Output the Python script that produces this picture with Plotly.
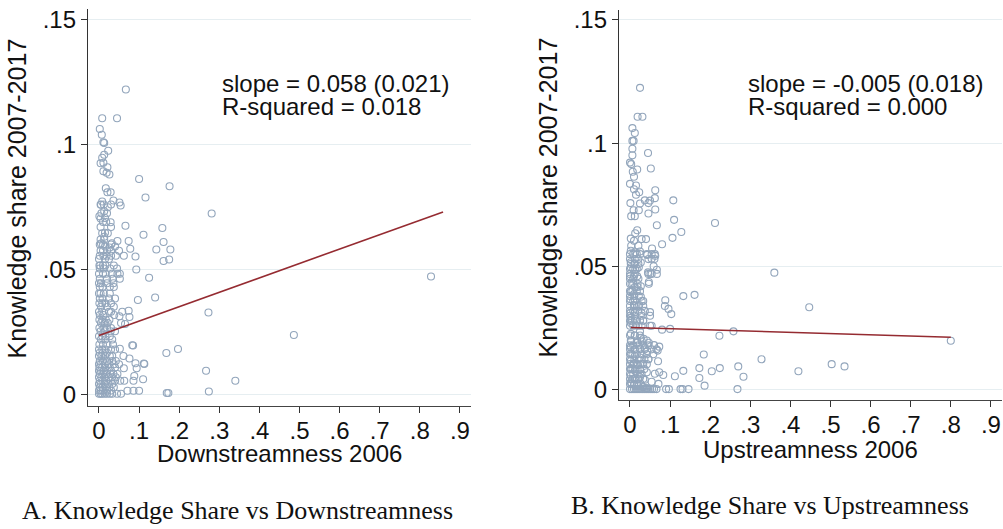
import plotly.graph_objects as go

# ---------------- Panel A: Knowledge share vs Downstreamness ----------------
a_upper = [
    (0.067, 0.1220), (0.008, 0.1105), (0.045, 0.1105), (0.002, 0.1062), (0.007, 0.1039),
    (0.011, 0.1009), (0.013, 0.1006), (0.023, 0.0975), (0.013, 0.0959), (0.008, 0.0947),
    (0.004, 0.0925), (0.011, 0.0927), (0.021, 0.0909), (0.011, 0.0893), (0.019, 0.0887),
    (0.026, 0.0880), (0.100, 0.0862), (0.176, 0.0833), (0.017, 0.0825), (0.021, 0.0809),
    (0.029, 0.0809), (0.116, 0.0788), (0.036, 0.0776), (0.008, 0.0772), (0.051, 0.0768),
    (0.054, 0.0756), (0.005, 0.0759), (0.022, 0.0749), (0.013, 0.0733), (0.001, 0.0713),
    (0.004, 0.0704), (0.015, 0.0706), (0.029, 0.0689), (0.066, 0.0675), (0.158, 0.0666),
    (0.015, 0.0647), (0.013, 0.0631), (0.111, 0.0639), (0.005, 0.0604), (0.032, 0.0605),
    (0.046, 0.0614), (0.074, 0.0614), (0.161, 0.0610), (0.015, 0.0592), (0.027, 0.0588),
    (0.040, 0.0592), (0.078, 0.0583), (0.143, 0.0580), (0.178, 0.0580), (0.281, 0.0724),
]
a_sparse = [
    (0.091, 0.0552), (0.175, 0.0540), (0.161, 0.0534), (0.093, 0.0500), (0.125, 0.0467),
    (0.097, 0.0378), (0.140, 0.0388), (0.273, 0.0328), (0.074, 0.0335), (0.076, 0.0310),
    (0.051, 0.0313), (0.065, 0.0282), (0.083, 0.0197), (0.052, 0.0183), (0.168, 0.0166),
    (0.197, 0.0182), (0.076, 0.0144), (0.091, 0.0125), (0.112, 0.0124), (0.094, 0.0105),
    (0.062, 0.0105), (0.267, 0.0095), (0.340, 0.0055), (0.110, 0.0061), (0.088, 0.0074),
    (0.086, 0.0055), (0.071, 0.0015), (0.086, 0.0015), (0.100, 0.0015), (0.169, 0.0006),
    (0.173, 0.0006), (0.274, 0.0012), (0.486, 0.0238), (0.828, 0.0472), (0.085, 0.0196),
    (0.113, 0.0122),
]
# rows of the dense cluster near zero: (y level, x values)
a_rows = [
    (0.0760, [0.004, 0.012, 0.030]), (0.0725, [0.006, 0.020]), (0.0690, [0.010, 0.018]),
    (0.0670, [0.004, 0.030]), (0.0645, [0.008, 0.022]), (0.0620, [0.004, 0.013]),
    (0.0600, [0.002, 0.010, 0.030]), (0.0575, [0.004, 0.010, 0.020, 0.030, 0.050]),
    (0.0555, [0.002, 0.011, 0.019, 0.030, 0.042, 0.062]), (0.0542, [0.000, 0.015, 0.025]),
    (0.0516, [0.001, 0.003, 0.010, 0.016, 0.037]), (0.0504, [0.002, 0.012, 0.028, 0.045]),
    (0.0483, [0.000, 0.010, 0.017, 0.032, 0.046, 0.052]), (0.0463, [0.002, 0.020, 0.034, 0.052]),
    (0.0445, [0.000, 0.005, 0.020, 0.036]), (0.0430, [0.002, 0.009, 0.027, 0.037]),
    (0.0404, [0.000, 0.004, 0.012, 0.027]), (0.0384, [0.002, 0.009, 0.025, 0.040]),
    (0.0365, [0.001, 0.008, 0.016, 0.030]), (0.0351, [0.005, 0.020, 0.037]),
    (0.0331, [0.000, 0.008, 0.025, 0.030, 0.058]), (0.0318, [0.002, 0.011, 0.038]),
    (0.0299, [0.001, 0.008, 0.017, 0.026]), (0.0286, [0.005, 0.014, 0.022, 0.055]),
    (0.0266, [0.001, 0.011, 0.020, 0.030]), (0.0253, [0.004, 0.014, 0.029, 0.040]),
    (0.0233, [0.000, 0.008, 0.016, 0.027]), (0.0220, [0.005, 0.016, 0.033]),
    (0.0200, [0.001, 0.010, 0.021, 0.035]), (0.0180, [0.000, 0.008, 0.016, 0.030, 0.040]),
    (0.0167, [0.002, 0.010, 0.020]), (0.0154, [0.000, 0.006, 0.015, 0.027, 0.033, 0.061]),
    (0.0134, [0.002, 0.010, 0.020, 0.033, 0.042]), (0.0121, [0.000, 0.005, 0.014, 0.024, 0.037, 0.050]),
    (0.0108, [0.001, 0.008, 0.016, 0.027, 0.040]), (0.0095, [0.000, 0.005, 0.012, 0.020, 0.030]),
    (0.0082, [0.002, 0.010, 0.018, 0.028, 0.036, 0.046]), (0.0069, [0.000, 0.006, 0.014, 0.024, 0.033, 0.042]),
    (0.0055, [0.002, 0.010, 0.018, 0.030, 0.040, 0.053, 0.063]), (0.0042, [0.000, 0.005, 0.014, 0.022, 0.033]),
    (0.0029, [0.002, 0.009, 0.017, 0.026, 0.037]), (0.0016, [0.000, 0.005, 0.010, 0.020, 0.030]),
    (0.0003, [0.000, 0.004, 0.008, 0.014, 0.020, 0.027, 0.033, 0.045, 0.055]),
]
a_fit_x = [0.0, 0.858]
a_slope, a_intercept = 0.0576, 0.0236

# ---------------- Panel B: Knowledge share vs Upstreamness ----------------
b_points = [
    (0.025, 0.1224), (0.019, 0.1107), (0.031, 0.1107), (0.006, 0.1061), (0.012, 0.1041),
    (0.006, 0.1009), (0.009, 0.1009), (0.006, 0.0977), (0.045, 0.0960), (0.006, 0.0951),
    (0.000, 0.0921), (0.003, 0.0915), (0.018, 0.0893), (0.052, 0.0897), (0.007, 0.0884),
    (0.010, 0.0864), (0.000, 0.0835), (0.015, 0.0828), (0.010, 0.0813), (0.023, 0.0801),
    (0.063, 0.0809), (0.015, 0.0791), (0.062, 0.0777), (0.108, 0.0768), (0.001, 0.0757),
    (0.025, 0.0755), (0.037, 0.0768), (0.046, 0.0757), (0.050, 0.0767), (0.063, 0.0731),
    (0.009, 0.0728), (0.022, 0.0728), (0.046, 0.0715), (0.003, 0.0704), (0.012, 0.0704),
    (0.067, 0.0667), (0.110, 0.0689), (0.212, 0.0676), (0.128, 0.0640), (0.018, 0.0647),
    (0.013, 0.0635), (0.106, 0.0616), (0.002, 0.0613), (0.010, 0.0604), (0.029, 0.0611),
    (0.040, 0.0611), (0.003, 0.0584), (0.021, 0.0584), (0.080, 0.0590), (0.055, 0.0573),
    (0.002, 0.0564), (0.013, 0.0557), (0.025, 0.0561), (0.043, 0.0547), (0.063, 0.0543),
    (0.054, 0.0531), (0.002, 0.0517), (0.012, 0.0513), (0.027, 0.0516), (0.059, 0.0501),
    (0.002, 0.0497), (0.013, 0.0487), (0.022, 0.0497), (0.067, 0.0487), (0.045, 0.0476),
    (0.051, 0.0471), (0.360, 0.0475), (0.000, 0.0460), (0.010, 0.0460), (0.018, 0.0460),
    (0.047, 0.0437), (0.004, 0.0430), (0.012, 0.0417), (0.019, 0.0417), (0.027, 0.0420),
    (0.002, 0.0397), (0.010, 0.0388), (0.027, 0.0377), (0.133, 0.0380), (0.161, 0.0385),
    (0.001, 0.0368), (0.012, 0.0361), (0.033, 0.0360), (0.088, 0.0363), (0.010, 0.0344),
    (0.023, 0.0344), (0.096, 0.0328), (0.447, 0.0335), (0.001, 0.0311), (0.012, 0.0313),
    (0.029, 0.0311), (0.050, 0.0315), (0.103, 0.0307), (0.002, 0.0291), (0.012, 0.0287),
    (0.025, 0.0281), (0.033, 0.0281), (0.002, 0.0271), (0.015, 0.0261), (0.050, 0.0260),
    (0.080, 0.0244), (0.100, 0.0247), (0.258, 0.0237), (0.223, 0.0219), (0.025, 0.0237),
    (0.002, 0.0227), (0.012, 0.0220), (0.027, 0.0211), (0.034, 0.0207), (0.003, 0.0197),
    (0.018, 0.0191), (0.047, 0.0191), (0.060, 0.0181), (0.073, 0.0175), (0.069, 0.0159),
    (0.800, 0.0199), (0.002, 0.0173), (0.012, 0.0164), (0.025, 0.0167), (0.037, 0.0171),
    (0.043, 0.0157), (0.184, 0.0143), (0.328, 0.0124), (0.002, 0.0148), (0.012, 0.0137),
    (0.025, 0.0131), (0.046, 0.0124), (0.070, 0.0116), (0.002, 0.0117), (0.010, 0.0108),
    (0.020, 0.0100), (0.033, 0.0104), (0.503, 0.0104), (0.535, 0.0095), (0.270, 0.0095),
    (0.224, 0.0088), (0.173, 0.0088), (0.204, 0.0075), (0.420, 0.0075), (0.133, 0.0077),
    (0.002, 0.0084), (0.012, 0.0077), (0.025, 0.0081), (0.042, 0.0071), (0.062, 0.0065),
    (0.073, 0.0071), (0.083, 0.0060), (0.112, 0.0055), (0.283, 0.0053), (0.173, 0.0048),
    (0.002, 0.0057), (0.012, 0.0047), (0.025, 0.0051), (0.037, 0.0041), (0.054, 0.0033),
    (0.071, 0.0024), (0.186, 0.0017), (0.002, 0.0031), (0.010, 0.0020), (0.021, 0.0015),
    (0.032, 0.0011), (0.042, 0.0007),
]
b_rows = [
    (0.0550, [0.000, 0.008, 0.017, 0.025, 0.042, 0.054, 0.062]), (0.0530, [0.000, 0.012, 0.021, 0.046, 0.061]),
    (0.0510, [0.002, 0.011, 0.021]), (0.0490, [0.000, 0.008, 0.017]),
    (0.0470, [0.000, 0.012, 0.046, 0.054, 0.067]), (0.0450, [0.000, 0.008, 0.021]),
    (0.0430, [0.000, 0.008, 0.019, 0.047]), (0.0400, [0.000, 0.006, 0.017, 0.025]),
    (0.0380, [0.000, 0.011, 0.022]), (0.0360, [0.000, 0.008, 0.029]),
    (0.0340, [0.000, 0.012, 0.021, 0.033, 0.087]), (0.0320, [0.000, 0.008, 0.021, 0.037]),
    (0.0300, [0.000, 0.012, 0.029, 0.050]), (0.0280, [0.000, 0.004, 0.017, 0.033]),
    (0.0260, [0.000, 0.008, 0.021, 0.029, 0.054]), (0.0220, [0.000, 0.012, 0.025]),
    (0.0200, [0.002, 0.017, 0.029, 0.042]), (0.0180, [0.000, 0.008, 0.021, 0.033, 0.046]),
    (0.0164, [0.000, 0.012, 0.025, 0.037, 0.054, 0.066]), (0.0144, [0.000, 0.006, 0.017, 0.029, 0.042, 0.058]),
    (0.0124, [0.000, 0.011, 0.022, 0.036, 0.046]), (0.0104, [0.000, 0.008, 0.017, 0.029, 0.042]),
    (0.0084, [0.000, 0.006, 0.014, 0.025, 0.036]), (0.0064, [0.000, 0.008, 0.019, 0.029]),
    (0.0044, [0.000, 0.006, 0.012, 0.022, 0.033]), (0.0024, [0.000, 0.004, 0.011, 0.017, 0.027]),
    (0.0003, [0.000, 0.005, 0.010, 0.015, 0.020, 0.025, 0.030, 0.035, 0.040, 0.045, 0.050,
              0.055, 0.060, 0.066, 0.090, 0.097, 0.126, 0.131, 0.146, 0.268]),
]
b_fit_x = [0.002, 0.800]
b_slope, b_intercept = -0.005, 0.0253

# ---------------- axes, labels ----------------
x_tickvals = [0, 0.1, 0.2, 0.3, 0.4, 0.5, 0.6, 0.7, 0.8, 0.9]
x_ticktext = ["0", ".1", ".2", ".3", ".4", ".5", ".6", ".7", ".8", ".9"]
y_tickvals = [0, 0.05, 0.1, 0.15]
y_ticktext = ["0", ".05", ".1", ".15"]
y_title = "Knowledge share 2007-2017"
a_x_title = "Downstreamness 2006"
b_x_title = "Upstreamness 2006"
a_caption = "A. Knowledge Share vs Downstreamness"
b_caption = "B. Knowledge Share vs Upstreamness"
a_stats = ["slope = 0.058 (0.021)", "R-squared = 0.018"]
b_stats = ["slope = -0.005 (0.018)", "R-squared = 0.000"]


def expand(points, rows):
    xs = [p[0] for p in points]
    ys = [p[1] for p in points]
    for yv, xr in rows:
        for xv in xr:
            xs.append(xv)
            ys.append(yv)
    return xs, ys


ax, ay = expand(a_upper + a_sparse, a_rows)
bx, by = expand(b_points, b_rows)

MARK = "#93a6bc"
LINE = "#952b31"
SANS = "Liberation Sans, Arial, sans-serif"
SERIF = "Liberation Serif, Times New Roman, serif"

fig = go.Figure()
fig.add_trace(go.Scatter(x=ax, y=ay, mode="markers", xaxis="x", yaxis="y",
                         marker=dict(symbol="circle-open", size=7, color=MARK, line=dict(width=1.1, color=MARK))))
fig.add_trace(go.Scatter(x=a_fit_x, y=[a_intercept + a_slope * v for v in a_fit_x], mode="lines",
                         xaxis="x", yaxis="y", line=dict(color=LINE, width=1.6)))
fig.add_trace(go.Scatter(x=bx, y=by, mode="markers", xaxis="x2", yaxis="y2",
                         marker=dict(symbol="circle-open", size=7, color=MARK, line=dict(width=1.1, color=MARK))))
fig.add_trace(go.Scatter(x=b_fit_x, y=[b_intercept + b_slope * v for v in b_fit_x], mode="lines",
                         xaxis="x2", yaxis="y2", line=dict(color=LINE, width=1.6)))

W, H = 1003, 529


def px_x(p):
    return p / W


def px_y(p):
    return 1 - p / H


xcommon = dict(range=[-0.0274, 0.9277], tickvals=x_tickvals, ticktext=x_ticktext, showgrid=False,
               zeroline=False, showline=True, linecolor="#444", linewidth=1.3, ticks="outside",
               ticklen=6, tickcolor="#333", tickwidth=1.2, ticklabelstandoff=-3,
               tickfont=dict(family=SANS, size=24, color="#111"))
ycommon = dict(tickvals=y_tickvals, ticktext=y_ticktext, showgrid=True, gridcolor="#e6eef1", gridwidth=1,
               zeroline=False, showline=True, linecolor="#333", linewidth=1.3, ticks="outside",
               ticklen=6, tickcolor="#333", tickwidth=1.2, tickfont=dict(family=SANS, size=24, color="#111"))

fig.update_layout(
    width=W, height=H, autosize=False, showlegend=False,
    margin=dict(l=0, r=0, t=0, b=0),
    paper_bgcolor="white", plot_bgcolor="white",
    xaxis=dict(domain=[px_x(88), px_x(471)], anchor="y", **xcommon),
    yaxis=dict(domain=[px_y(407), px_y(5)], anchor="x", range=[-0.00446, 0.1542], **ycommon),
    xaxis2=dict(domain=[px_x(619), px_x(1002)], anchor="y2", **xcommon),
    yaxis2=dict(domain=[px_y(401), px_y(6)], anchor="x2", range=[-0.0040, 0.1540], **ycommon),
)

ann = []
for txt, x, y in [(a_stats[0], 220, 81), (a_stats[1], 220, 104), (b_stats[0], 746, 81), (b_stats[1], 746, 104)]:
    ann.append(dict(text=txt, x=px_x(x), y=px_y(y), xref="paper", yref="paper", xanchor="left",
                    yanchor="middle", showarrow=False, font=dict(family=SANS, size=24, color="#111")))
for txt, x, y in [(a_x_title, 279, 456), (b_x_title, 810, 451)]:
    ann.append(dict(text=txt, x=px_x(x), y=px_y(y), xref="paper", yref="paper", xanchor="center",
                    yanchor="middle", showarrow=False, font=dict(family=SANS, size=24, color="#111")))
for x, y in [(17, 197), (548, 196)]:
    ann.append(dict(text=y_title, x=px_x(x), y=px_y(y), xref="paper", yref="paper", xanchor="center",
                    yanchor="middle", textangle=-90, showarrow=False,
                    font=dict(family=SANS, size=25, color="#111")))
for txt, x, y in [(a_caption, 237.5, 513), (b_caption, 770, 508)]:
    ann.append(dict(text=txt, x=px_x(x), y=px_y(y), xref="paper", yref="paper", xanchor="center",
                    yanchor="middle", showarrow=False, font=dict(family=SERIF, size=26, color="#111")))
fig.update_layout(annotations=ann)

fig.write_html("out.html")
